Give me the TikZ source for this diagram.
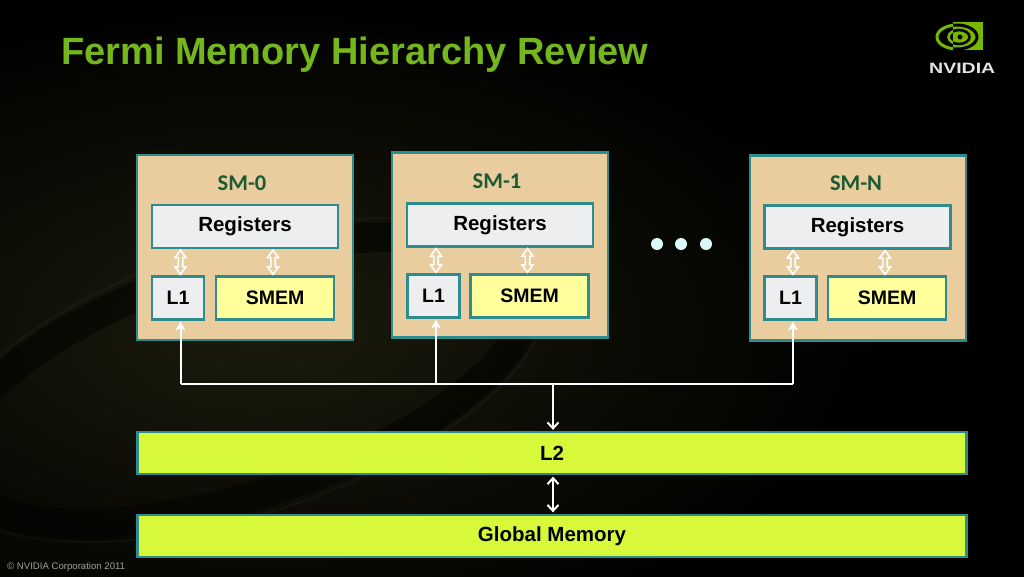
\documentclass[tikz,border=0pt]{standalone}
\usepackage{fontspec}
\setmainfont{Liberation Sans}
\newfontfamily\carlitofont{Carlito}
\usetikzlibrary{arrows.meta,calc}
\definecolor{smtan}{HTML}{EACD9E}
\definecolor{smedge}{HTML}{2E8B8E}
\definecolor{reggrey}{HTML}{EDEEF0}
\definecolor{smemyel}{HTML}{FFFF9C}
\definecolor{barlime}{HTML}{D8F83A}
\definecolor{smgreen}{HTML}{1B5A33}
\definecolor{titlegreen}{HTML}{74B71C}
\definecolor{nvgreen}{HTML}{76B900}
\definecolor{dotcyan}{HTML}{DDF8F8}
\definecolor{footgrey}{HTML}{A0A0A0}
\definecolor{bgolive}{HTML}{1B1B0C}
\definecolor{logogrey}{HTML}{E4E4E4}
\newcommand\hdarrow[3]{%
  \path ($(#1.south -| #2.north)+(#3,1)$) coordinate (hdT)
        ($(#2.north)+(#3,-1)$) coordinate (hdB);
  \filldraw[hollowarr] (hdT) -- ($(hdT)+(5.5,7.5)$) -- ($(hdT)+(2.2,7.5)$)
    -- ($(hdB)+(2.2,-7.5)$) -- ($(hdB)+(5.5,-7.5)$) -- (hdB)
    -- ($(hdB)+(-5.5,-7.5)$) -- ($(hdB)+(-2.2,-7.5)$)
    -- ($(hdT)+(-2.2,7.5)$) -- ($(hdT)+(-5.5,7.5)$) -- cycle;}
\begin{document}
\begin{tikzpicture}[x=1pt,y=-1pt,
  boxbase/.style={draw=smedge, line width=2.3pt, inner sep=0pt},
  smbox/.style={boxbase, fill=smtan, minimum width=216pt, minimum height=185pt},
  regbox/.style={boxbase, fill=reggrey, minimum width=186pt, minimum height=43pt,
    font=\fontsize{20.5}{24}\selectfont\bfseries},
  l1box/.style={boxbase, fill=reggrey, minimum width=52pt, minimum height=43pt,
    font=\fontsize{19.5}{22}\selectfont\bfseries},
  smembox/.style={boxbase, fill=smemyel, minimum width=118pt, minimum height=43pt,
    font=\fontsize{19.5}{22}\selectfont\bfseries},
  barbox/.style={boxbase, fill=barlime, minimum width=829pt, minimum height=42pt,
    font=\fontsize{20.5}{24}\selectfont\bfseries},
  smlabel/.style={inner sep=0pt, font=\carlitofont\bfseries\fontsize{22.5}{26}\selectfont, text=smgreen},
  hollowarr/.style={draw=white, fill=smtan, line width=1.6pt, line join=miter},
  wire/.style={draw=white, line width=2pt},
  uparr/.style={wire, -{Stealth[length=9pt,width=10pt,inset=2.5pt]}},
  downarr/.style={wire, -{Straight Barb[length=6pt,width=11pt]}},
  dblarr/.style={wire, {Straight Barb[length=6pt,width=11pt]}-{Straight Barb[length=6pt,width=11pt]}},
  dotstyle/.style={fill=dotcyan, draw=none}]
\useasboundingbox (0,0) rectangle (1024,576);
% background
\fill[black] (-20,-20) rectangle (1044,596);
\shade[inner color=bgolive, outer color=black] (260,330) ellipse [x radius=620pt, y radius=330pt];
\begin{scope}[rotate around={18:(240,380)}]
  \draw[line width=30pt, color=black, opacity=.45] (240,380) ellipse [x radius=300pt, y radius=115pt];
  \draw[line width=1.5pt, color=white, opacity=.04] (240,380) ellipse [x radius=320pt, y radius=135pt];
\end{scope}
% title
\node[anchor=base west, inner sep=0pt, font=\fontsize{38}{44}\selectfont\bfseries, text=titlegreen]
  (title) at (61,64) {Fermi Memory Hierarchy Review};
% logo
\fill[nvgreen] (953,22) rectangle (983,50);
\begin{scope}
  \clip (953,22) rectangle (983,50);
  \draw[black, line width=3pt] (957,37) ellipse [x radius=20pt, y radius=12pt];
  \draw[black, line width=2.6pt] (959,37) ellipse [x radius=10.5pt, y radius=7pt];
  \fill[black] (960,37) circle [radius=2.5pt];
\end{scope}
\begin{scope}
  \clip (920,10) rectangle (953,60);
  \draw[nvgreen, line width=3pt] (957,37) ellipse [x radius=20pt, y radius=12pt];
  \draw[nvgreen, line width=2.6pt] (959,37) ellipse [x radius=10.5pt, y radius=7pt];
\end{scope}
\node[anchor=base west, inner sep=0pt, font=\fontsize{15}{16}\selectfont\bfseries, text=logogrey]
  (logo) at (929,73) {\scalebox{1.3}[1]{NVIDIA}};
% SM boxes
\node[smbox] (sm0) at (245,247.5) {};
\node[smbox] (sm1) at (500,245) {};
\node[smbox] (sm2) at (858,248) {};
\node[smlabel] (lab0) at (242,183) {SM-0};
\node[smlabel] (lab1) at (497,181) {SM-1};
\node[smlabel] (lab2) at (856,183) {SM-N};
\node[regbox] (reg0) at (245,226.5) {Registers};
\node[regbox] (reg1) at (500,225) {Registers};
\node[regbox] (reg2) at (857.5,227) {Registers};
\node[l1box] (l10) at (178,298) {L1};
\node[l1box] (l11) at (433.5,296) {L1};
\node[l1box] (l12) at (790.5,298) {L1};
\node[smembox] (smem0) at (275,298) {SMEM};
\node[smembox] (smem1) at (529.5,296) {SMEM};
\node[smembox] (smem2) at (887,298) {SMEM};
% inner double arrows
\hdarrow{reg0}{l10}{2.5}
\hdarrow{reg0}{smem0}{-2}
\hdarrow{reg1}{l11}{2.5}
\hdarrow{reg1}{smem1}{-2}
\hdarrow{reg2}{l12}{2.5}
\hdarrow{reg2}{smem2}{-2}
% dots
\fill[dotstyle] (657,244) circle [radius=6pt];
\fill[dotstyle] (681,244) circle [radius=6pt];
\fill[dotstyle] (706,244) circle [radius=6pt];
% L2 and global memory
\node[barbox] (l2) at (552,453) {L2};
\node[barbox] (gm) at (552,536) {Global Memory};
% bus
\coordinate (bus) at (553,384);
\coordinate (t0) at ($(l10.south)+(2.5,1)$);
\coordinate (t1) at ($(l11.south)+(2.5,1)$);
\coordinate (t2) at ($(l12.south)+(2.5,1)$);
\draw[wire] (t0 |- bus) -- (t2 |- bus);
\draw[uparr] (t0 |- bus) -- (t0);
\draw[uparr] (t1 |- bus) -- (t1);
\draw[uparr] (t2 |- bus) -- (t2);
\draw[downarr] (bus) -- ($(bus |- l2.north)+(0,-1)$);
\draw[dblarr] ($(l2.south -| bus)+(0,1.5)$) -- ($(gm.north -| bus)+(0,-1.5)$);
% footer
\node[anchor=base west, inner sep=0pt, font=\fontsize{9.6}{10}\selectfont, text=footgrey]
  (foot) at (7,569) {\textcopyright{} NVIDIA Corporation 2011};
\end{tikzpicture}
\end{document}
